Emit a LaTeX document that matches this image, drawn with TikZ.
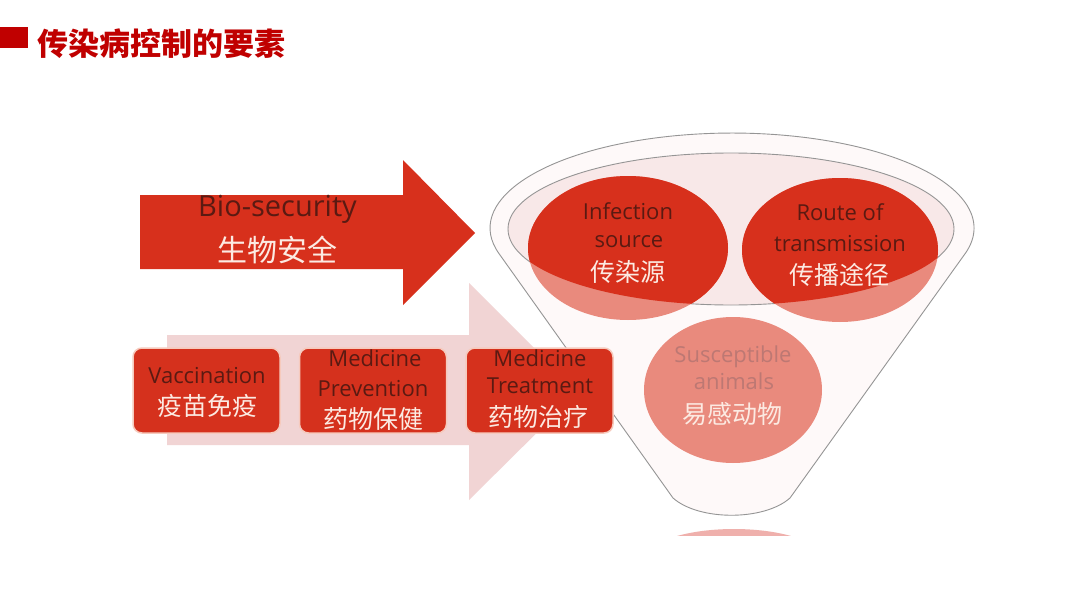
\documentclass[tikz,border=0pt]{standalone}
\usepackage{fontspec}
\setmainfont{Open Sans}
\newfontfamily\cjk{Noto Sans CJK SC}
\usetikzlibrary{shapes.geometric}
\definecolor{titlered}{HTML}{C00000}
\definecolor{arrowred}{HTML}{D7301C}
\definecolor{boxred}{HTML}{D5311D}
\definecolor{boxedge}{HTML}{F6CABD}
\definecolor{pinkarrow}{HTML}{F1D4D4}
\definecolor{darktext}{HTML}{5A1A12}
\definecolor{lighttext}{HTML}{FCEAE2}
\definecolor{salmon}{HTML}{E98A7D}
\definecolor{mouth}{HTML}{F8E8E8}
\definecolor{funnelbody}{HTML}{FEF9F9}
\definecolor{outlinegray}{HTML}{959595}
\definecolor{fadedtext}{HTML}{BD7873}
\definecolor{lens}{HTML}{EFB0AC}
\begin{document}
\begin{tikzpicture}[x=1pt,y=-1pt,
  en/.style={font=\fontsize{22}{24}\selectfont, text=darktext, inner sep=0pt, anchor=base},
  zh/.style={font=\cjk\fontsize{25}{27}\selectfont, text=lighttext, inner sep=0pt},
  box/.style={draw=boxedge, line width=1.5pt, fill=boxred, rounded corners=9pt,
              minimum width=147pt, minimum height=85pt, inner sep=0pt},
  oval/.style={ellipse, inner sep=0pt, fill=salmon}]
\useasboundingbox (0,0) rectangle (1080,608);
\fill[white] (0,0) rectangle (1080,608);

% title
\fill[titlered] (0,27) rectangle (28,48);
\node[anchor=west, inner sep=0pt, text=titlered, font=\cjk\bfseries\fontsize{31}{33}\selectfont] (title) at (37,44) {传染病控制的要素};

% big red arrow
\fill[arrowred] (140,195) -- (403,195) -- (403,160) -- (475,233) -- (403,305) -- (403,269) -- (140,269) -- cycle;
\node[en, font=\fontsize{29}{31}\selectfont] (bio) at (277.5,216) {Bio-security};
\node[zh, font=\cjk\fontsize{30}{32}\selectfont] (biozh) at (277,250) {生物安全};

% pink arrow
\fill[pinkarrow] (167,335) -- (469,335) -- (469,283) -- (578,392) -- (469,500) -- (469,445) -- (167,445) -- cycle;

% funnel
\path[fill=funnelbody, draw=outlinegray, line width=0.9pt]
  (499,253.6) arc[start angle=195.6, end angle=-15.7, x radius=242pt, y radius=95pt]
  -- (790,498) .. controls (764,521) and (699,521) .. (673,498) -- cycle;
\fill[mouth] (731,229) ellipse [x radius=223pt, y radius=76pt];
\draw[outlinegray, line width=0.9pt] (731,229) ellipse [x radius=223pt, y radius=76pt];

% lens at bottom
\begin{scope}
  \clip (600,515) rectangle (870,535);
  \fill[lens] (734,560) ellipse [x radius=90pt, y radius=31pt];
\end{scope}

% circles
\node[oval, minimum width=200pt, minimum height=144pt] (inf) at (628,248) {};
\node[oval, minimum width=196pt, minimum height=144pt] (route) at (840,250) {};
\begin{scope}
  \clip (731,229) ellipse [x radius=223pt, y radius=76pt];
  \fill[arrowred] (inf.center) ellipse [x radius=100pt, y radius=72pt];
  \fill[arrowred] (route.center) ellipse [x radius=98pt, y radius=72pt];
\end{scope}
\node[oval, minimum width=178pt, minimum height=146pt] (sus) at (733,390) {};

\node[en] (inf1) at (628,219) {Infection};
\node[en] (inf2) at (629,247) {source};
\node[zh] (infzh) at (628,272) {传染源};
\node[en] (rt1) at (840,220) {Route of};
\node[en] (rt2) at (840,251) {transmission};
\node[zh] (rtzh) at (839,275) {传播途径};
\node[en, text=fadedtext] (sus1) at (733,362) {Susceptible};
\node[en, text=fadedtext] (sus2) at (734,389) {animals};
\node[zh] (suszh) at (732,414) {易感动物};

% boxes
\node[box] (vac) at (206.5,390.5) {};
\node[box] (prev) at (373,390.5) {};
\node[box] (treat) at (539.5,390.5) {};

\node[en] (vac1) at (207,383) {Vaccination};
\node[zh] (vaczh) at (207,406) {疫苗免疫};
\node[en] (prev1) at (375,366) {Medicine};
\node[en] (prev2) at (373,396) {Prevention};
\node[zh] (prevzh) at (373,419) {药物保健};
\node[en] (treat1) at (540,366) {Medicine};
\node[en] (treat2) at (540,393) {Treatment};
\node[zh] (treatzh) at (538,417) {药物治疗};
\end{tikzpicture}
\end{document}
